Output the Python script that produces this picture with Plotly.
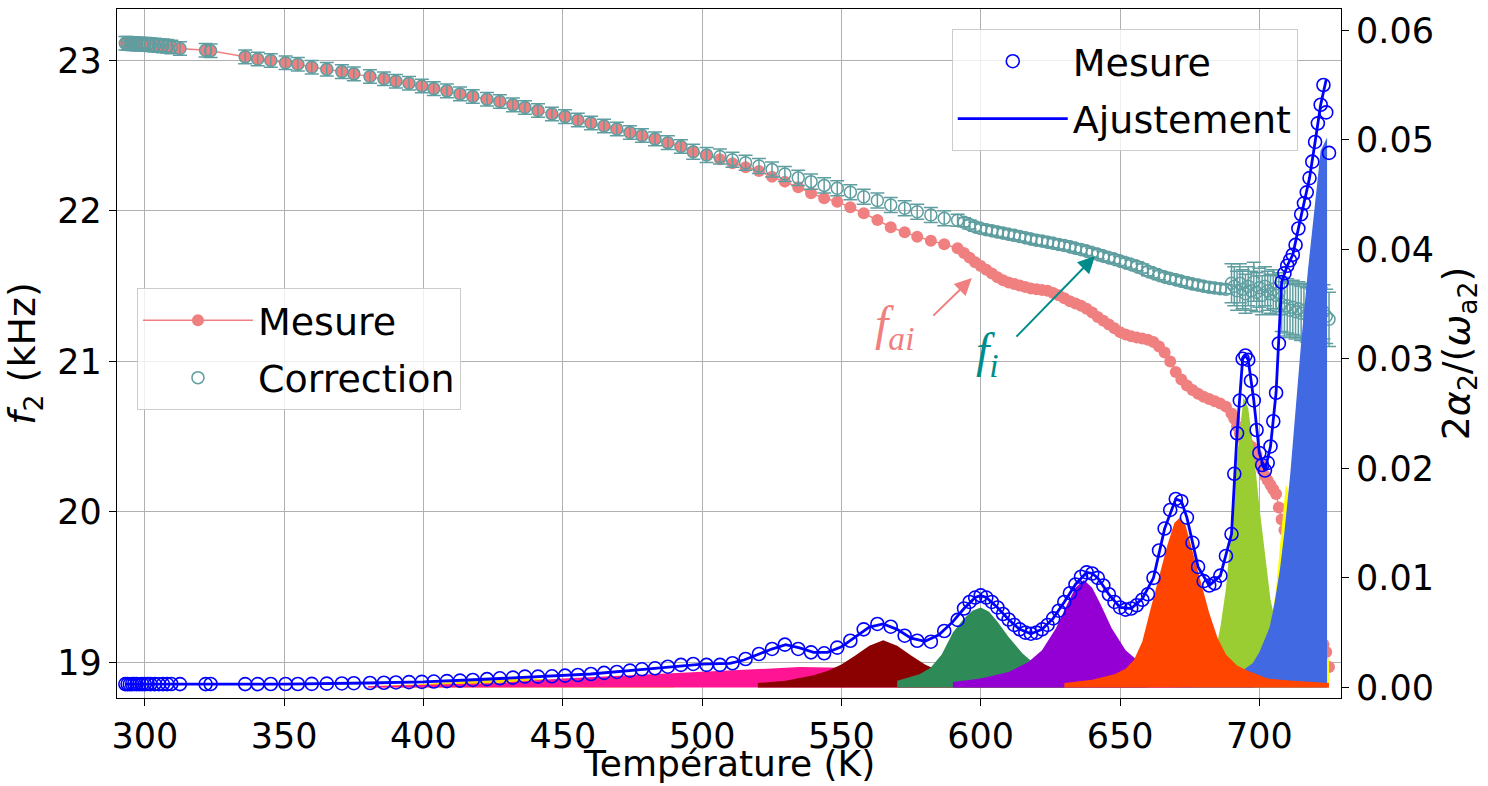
import plotly.graph_objects as go

# ---------------- data ----------------
# temperatures of the measurement points (K)
T_meas = [
    293.0, 293.8, 294.6, 295.4, 296.2, 297.0, 298.0, 299.0, 300.0, 301.0,
    302.0, 303.5, 305.0, 306.5, 308.0, 309.5, 312.6, 321.8, 323.6,
    336.0, 340.5, 345.2, 350.5,
    354.9, 359.9, 365.3, 370.7, 375.0, 380.8, 385.8, 390.1, 394.8, 399.4,
    403.7, 408.4, 413.1, 417.7, 422.8, 427.4, 432.1, 436.4, 441.1, 446.1,
    450.8, 455.4, 460.1, 464.8, 469.4, 474.1, 478.4, 483.1, 487.7, 492.4,
    496.8, 501.6, 506.4, 510.9, 515.6, 520.4, 525.1, 529.7, 534.5, 539.1,
    543.8, 548.5, 553.2, 558.0, 562.9, 567.7, 572.7, 577.2, 582.1, 586.9,
    591.7,
    594, 596, 598, 600, 602, 604, 606, 608, 610, 612,
    614, 616, 618, 620, 622, 624, 626, 628, 630, 632,
    634, 636, 638, 640, 642, 644, 646, 648, 650, 652,
    654, 656, 658, 660, 662, 664, 666, 668, 670, 672,
    674, 676, 678, 680, 682, 684, 686, 688, 690,
    691, 692, 693, 694, 695, 696, 697, 698, 699, 700,
    701, 702, 703, 704, 705, 706, 707, 708, 709, 710,
    711, 712, 713, 714, 715, 716, 717, 718, 719, 720,
    721, 722, 723, 724, 725,
]

# f_ai : measured frequency (kHz)
f_mesure = [
    23.115, 23.114, 23.113, 23.112, 23.111, 23.110, 23.109, 23.108, 23.107, 23.106,
    23.104, 23.102, 23.100, 23.097, 23.094, 23.090, 23.080, 23.068, 23.064,
    23.024, 23.010, 23.000, 22.985,
    22.975, 22.955, 22.942, 22.926, 22.911, 22.893, 22.878, 22.862, 22.849, 22.831,
    22.813, 22.798, 22.778, 22.760, 22.743, 22.727, 22.705, 22.687, 22.667, 22.645,
    22.627, 22.605, 22.585, 22.565, 22.545, 22.521, 22.501, 22.479, 22.454, 22.428,
    22.394, 22.372, 22.344, 22.317, 22.291, 22.266, 22.228, 22.195, 22.158, 22.118,
    22.084, 22.062, 22.025, 21.985, 21.940, 21.892, 21.858, 21.829, 21.802, 21.779,
    21.752,
    21.720, 21.690, 21.660, 21.635, 21.610, 21.585, 21.560, 21.540, 21.525, 21.515,
    21.505, 21.495, 21.485, 21.480, 21.475, 21.470, 21.455, 21.440, 21.420, 21.400,
    21.385, 21.370, 21.350, 21.325, 21.295, 21.270, 21.245, 21.220, 21.195, 21.180,
    21.168, 21.160, 21.152, 21.145, 21.130, 21.100, 21.060, 21.000, 20.930, 20.880,
    20.840, 20.810, 20.785, 20.765, 20.750, 20.735, 20.720, 20.700, 20.655,
    20.620, 20.570, 20.520, 20.490, 20.465, 20.450, 20.435, 20.420, 20.380, 20.330,
    20.280, 20.240, 20.210, 20.180, 20.150, 20.120, 20.030, 19.950, 19.880, 19.800,
    19.740, 19.680, 19.620, 19.570, 19.520, 19.470, 19.420, 19.370, 19.320, 19.270,
    19.220, 19.170, 19.120, 19.070, 18.970,
]

# f_i : corrected frequency (kHz) and its error bars
f_correction = [
    23.115, 23.114, 23.113, 23.112, 23.111, 23.110, 23.109, 23.108, 23.107, 23.106,
    23.104, 23.102, 23.100, 23.097, 23.094, 23.090, 23.080, 23.068, 23.064,
    23.024, 23.010, 23.000, 22.985,
    22.975, 22.955, 22.942, 22.926, 22.911, 22.893, 22.878, 22.862, 22.849, 22.831,
    22.813, 22.798, 22.778, 22.760, 22.743, 22.727, 22.705, 22.687, 22.667, 22.645,
    22.627, 22.605, 22.585, 22.565, 22.545, 22.521, 22.501, 22.479, 22.454, 22.428,
    22.394, 22.372, 22.362, 22.340, 22.320, 22.299, 22.275, 22.246, 22.220, 22.195,
    22.170, 22.151, 22.125, 22.095, 22.070, 22.040, 22.018, 21.995, 21.973, 21.951,
    21.938,
    21.925, 21.910, 21.895, 21.883, 21.875, 21.868, 21.860, 21.853, 21.846, 21.838,
    21.830, 21.822, 21.814, 21.806, 21.800, 21.793, 21.786, 21.778, 21.770, 21.762,
    21.753, 21.744, 21.734, 21.723, 21.712, 21.700, 21.690, 21.679, 21.668, 21.656,
    21.644, 21.632, 21.618, 21.600, 21.586, 21.573, 21.562, 21.552, 21.543, 21.533,
    21.524, 21.515, 21.508, 21.500, 21.494, 21.488, 21.484, 21.480, 21.520,
    21.500, 21.470, 21.520, 21.480, 21.450, 21.500, 21.470, 21.530, 21.460, 21.490,
    21.440, 21.500, 21.470, 21.450, 21.480, 21.440, 21.460, 21.380, 21.350, 21.370,
    21.340, 21.360, 21.330, 21.350, 21.320, 21.340, 21.310, 21.330, 21.300, 21.320,
    21.290, 21.310, 21.330, 21.300, 21.280,
]
f_correction_err = [
    0.045, 0.045, 0.045, 0.045, 0.045, 0.045, 0.045, 0.045, 0.045, 0.045,
    0.045, 0.045, 0.045, 0.045, 0.045, 0.045, 0.045, 0.045, 0.045,
    0.045, 0.045, 0.045, 0.045,
    0.045, 0.045, 0.045, 0.045, 0.045, 0.045, 0.045, 0.045, 0.045, 0.045,
    0.045, 0.045, 0.045, 0.045, 0.045, 0.045, 0.045, 0.045, 0.045, 0.045,
    0.045, 0.045, 0.045, 0.045, 0.045, 0.045, 0.045, 0.045, 0.045, 0.045,
    0.050, 0.050, 0.050, 0.050, 0.050, 0.050, 0.050, 0.050, 0.050, 0.050,
    0.050, 0.050, 0.050, 0.050, 0.050, 0.050, 0.050, 0.050, 0.050, 0.050,
    0.040,
    0.030, 0.030, 0.030, 0.030, 0.030, 0.030, 0.030, 0.030, 0.030, 0.030,
    0.030, 0.030, 0.030, 0.030, 0.030, 0.030, 0.030, 0.030, 0.030, 0.030,
    0.030, 0.030, 0.030, 0.030, 0.030, 0.030, 0.030, 0.030, 0.030, 0.030,
    0.030, 0.030, 0.030, 0.030, 0.030, 0.030, 0.030, 0.030, 0.030, 0.030,
    0.030, 0.030, 0.030, 0.030, 0.030, 0.030, 0.030, 0.030, 0.130,
    0.130, 0.130, 0.130, 0.130, 0.130, 0.130, 0.130, 0.130, 0.130, 0.130,
    0.130, 0.130, 0.130, 0.130, 0.130, 0.130, 0.130, 0.180, 0.180, 0.180,
    0.180, 0.180, 0.180, 0.180, 0.180, 0.180, 0.180, 0.180, 0.180, 0.180,
    0.180, 0.180, 0.180, 0.180, 0.180,
]

# 2 alpha_2 / omega_a2 : measured points (right axis)
alpha_mesure = [
    0.00030, 0.00030, 0.00029, 0.00030, 0.00031, 0.00030, 0.00029, 0.00030, 0.00030, 0.00031,
    0.00030, 0.00030, 0.00029, 0.00030, 0.00030, 0.00031, 0.00030, 0.00030, 0.00031,
    0.00030, 0.00030, 0.00031, 0.00031,
    0.00031, 0.00032, 0.00034, 0.00036, 0.00038, 0.00040, 0.00042, 0.00045, 0.00048, 0.00050,
    0.00053, 0.00057, 0.00062, 0.00068, 0.00075, 0.00083, 0.00089, 0.00098, 0.00098, 0.00101,
    0.00107, 0.00113, 0.00122, 0.00132, 0.00141, 0.00153, 0.00165, 0.00174, 0.00189, 0.00205,
    0.00214, 0.00205, 0.00205, 0.00220, 0.00259, 0.00305, 0.00351, 0.00390, 0.00351, 0.00320,
    0.00311, 0.00363, 0.00426, 0.00530, 0.00579, 0.00554, 0.00472, 0.00426, 0.00417, 0.00515,
    0.00616,
    0.0072, 0.0078, 0.0082, 0.0084, 0.0082, 0.0078, 0.0073, 0.0067, 0.0062, 0.0057,
    0.0053, 0.0050, 0.0049, 0.0050, 0.0053, 0.0057, 0.0063, 0.0070, 0.0078, 0.0086,
    0.0094, 0.0101, 0.0105, 0.0104, 0.0100, 0.0093, 0.0085, 0.0078, 0.0073, 0.0071,
    0.0072, 0.0075, 0.0080, 0.0085, 0.0100, 0.0125, 0.0145, 0.0162, 0.0172, 0.0170,
    0.0155, 0.0132, 0.0110, 0.0097, 0.0093, 0.0095, 0.0102, 0.0120, 0.0140,
    0.0195, 0.0232, 0.0262, 0.0300, 0.0303, 0.0299, 0.0280, 0.0262, 0.0235, 0.0214,
    0.0203, 0.0198, 0.0205, 0.0220, 0.0243, 0.0269, 0.0314, 0.0370, 0.0378, 0.0385,
    0.0390, 0.0395, 0.0404, 0.0419, 0.0432, 0.0442, 0.0452, 0.0465, 0.0480, 0.0498,
    0.0515, 0.0532, 0.0550, 0.0525, 0.0488,
]

# fitted curve (right axis)
T_fit = [293, 320, 350, 380, 400, 420, 440, 460, 480, 500, 510, 515, 520, 525, 530,
         535, 540, 545, 550, 555, 560, 565, 570, 575, 580, 585, 590, 594, 598, 600,
         602, 606, 610, 614, 618, 622, 626, 630, 634, 638, 640, 642, 646, 650, 654,
         658, 662, 666, 670, 672, 674, 678, 682, 686, 688, 690, 692, 694, 695, 696,
         698, 700, 702, 704, 706, 708, 710, 712, 714, 716, 718, 720, 722, 724]
alpha_fit = [0.0003, 0.0003, 0.0003, 0.0004, 0.0005, 0.00072, 0.00098, 0.00122, 0.00167, 0.00212,
             0.0022, 0.0025, 0.0030, 0.0035, 0.0039, 0.0036, 0.0032, 0.0032, 0.0037, 0.0046,
             0.0055, 0.0058, 0.0053, 0.0045, 0.0042, 0.0048, 0.0060, 0.0072, 0.0082, 0.0084,
             0.0082, 0.0073, 0.0062, 0.0053, 0.0049, 0.0053, 0.0063, 0.0078, 0.0094, 0.0105,
             0.0104, 0.0100, 0.0085, 0.0073, 0.0072, 0.0081, 0.0100, 0.0145, 0.0172, 0.0170,
             0.0155, 0.0110, 0.0093, 0.0102, 0.0120, 0.0140, 0.0232, 0.0300, 0.0303, 0.0299,
             0.0262, 0.0214, 0.0198, 0.0220, 0.0269, 0.0370, 0.0385, 0.0395, 0.0419, 0.0442,
             0.0465, 0.0498, 0.0532, 0.0555]

# fitted peak components (right axis), drawn as filled areas
gold_T = [380, 400, 410, 420, 430, 440, 450, 460, 475, 490]
gold_v = [0.0001, 0.0003, 0.0005, 0.0007, 0.0008, 0.0008, 0.0006, 0.0004, 0.0002, 0.0001]

pink_T = [380, 400, 427, 450, 475, 500, 520, 535, 550, 570, 590, 610, 640, 680, 725]
pink_v = [0.0001, 0.0002, 0.0004, 0.0008, 0.0011, 0.0014, 0.0017, 0.00185, 0.0018,
          0.0015, 0.0011, 0.0008, 0.0005, 0.0003, 0.0002]

darkred_T = [520, 530, 540, 545, 550, 555, 560, 565, 570, 575, 580, 585, 590, 600, 615, 630]
darkred_v = [0.0004, 0.0006, 0.0011, 0.0015, 0.0021, 0.0029, 0.0038, 0.0043, 0.0038,
             0.0029, 0.0021, 0.0015, 0.0011, 0.0006, 0.0003, 0.0002]

green_T = [570, 578, 582, 586, 590, 594, 597, 600, 603, 606, 610, 615, 620, 628, 640, 660]
green_v = [0.0006, 0.0012, 0.0018, 0.0030, 0.0050, 0.0063, 0.0070, 0.0073, 0.0069,
           0.0060, 0.0046, 0.0031, 0.0020, 0.0011, 0.0006, 0.0003]

violet_T = [590, 600, 610, 617, 622, 627, 631, 634, 637, 640, 643, 647, 652, 657, 665, 680, 700]
violet_v = [0.0005, 0.0008, 0.0014, 0.0023, 0.0034, 0.0054, 0.0076, 0.0091, 0.0098,
            0.0091, 0.0076, 0.0054, 0.0034, 0.0023, 0.0013, 0.0006, 0.0003]

yellowgreen_T = [676, 681, 684, 686, 688, 690, 692, 694.3, 696, 698, 700, 702, 704, 707, 712, 720]
yellowgreen_v = [0.0006, 0.0015, 0.0030, 0.0055, 0.0090, 0.0145, 0.0210, 0.0265, 0.0255,
                 0.0215, 0.0165, 0.0120, 0.0080, 0.0045, 0.0020, 0.0008]

yellow_T = [698, 702, 704, 706, 708, 709.5, 711, 713, 716, 720, 725]
yellow_v = [0.0010, 0.0030, 0.0055, 0.0090, 0.0145, 0.0185, 0.0175, 0.0130, 0.0080, 0.0045, 0.0025]

blue_T = [670, 680, 688, 694.3, 697.6, 700, 703.7, 705.5, 707.4, 709, 711.1, 713.5, 715,
          717.4, 720, 722, 724.3]
blue_v = [0.0003, 0.0006, 0.0010, 0.0016, 0.0022, 0.0032, 0.0055, 0.0078, 0.0108, 0.0142,
          0.0195, 0.0270, 0.0315, 0.0380, 0.0445, 0.0490, 0.0502]

orange_T = [630, 640, 648, 652, 655, 658, 661, 664, 667, 669.5, 671.5, 673.5, 676, 679,
            682, 685, 688, 692, 696, 703, 712, 725]
orange_v = [0.0004, 0.0007, 0.0012, 0.0017, 0.0025, 0.0042, 0.0072, 0.0102, 0.0130, 0.0150,
            0.0155, 0.0148, 0.0125, 0.0098, 0.0068, 0.0045, 0.0030, 0.0020, 0.0015, 0.0008,
            0.0006, 0.0004]

components = [
    (gold_T, gold_v, "#FFD700"),
    (pink_T, pink_v, "#FF1493"),
    (darkred_T, darkred_v, "#8B0000"),
    (green_T, green_v, "#2E8B57"),
    (violet_T, violet_v, "#9400D3"),
    (yellowgreen_T, yellowgreen_v, "#9ACD32"),
    (yellow_T, yellow_v, "#FFFF00"),
    (blue_T, blue_v, "#4169E1"),
    (orange_T, orange_v, "#FF4500"),
]

x_ticks = [300, 350, 400, 450, 500, 550, 600, 650, 700]
y_ticks = [19, 20, 21, 22, 23]
y2_ticks = [0.00, 0.01, 0.02, 0.03, 0.04, 0.05, 0.06]

SALMON = "#F08080"
CADET = "#5F9EA0"
DARKCYAN = "#008B8B"
FONT = "DejaVu Sans"

fig = go.Figure()

fig.add_trace(go.Scatter(
    x=T_meas, y=f_mesure, mode="lines+markers", name="Mesure",
    line=dict(color=SALMON, width=1.5),
    marker=dict(color=SALMON, size=12),
    legend="legend", legendgroup="a", legendrank=1, hoverinfo="skip"))

fig.add_trace(go.Scatter(
    x=T_meas, y=f_correction, mode="markers", name="Correction",
    marker=dict(symbol="circle-open", color=CADET, size=12, line=dict(width=1.5, color=CADET)),
    error_y=dict(type="data", array=f_correction_err, color=CADET, thickness=1.5, width=7),
    legend="legend", legendgroup="b", legendrank=2, hoverinfo="skip"))

for cx, cy, col in components:
    fig.add_trace(go.Scatter(
        x=cx, y=cy, mode="lines", line=dict(width=0, color=col),
        fill="tozeroy", fillcolor=col, yaxis="y2", showlegend=False, hoverinfo="skip"))

fig.add_trace(go.Scatter(
    x=T_fit, y=alpha_fit, mode="lines", name="Ajustement",
    line=dict(color="#0000FF", width=2.8), yaxis="y2",
    legend="legend2", legendgroup="d", legendrank=2, hoverinfo="skip"))

fig.add_trace(go.Scatter(
    x=T_meas, y=alpha_mesure, mode="markers", name="Mesure",
    marker=dict(symbol="circle-open", color="#0000FF", size=13, line=dict(width=1.6, color="#0000FF")),
    yaxis="y2", legend="legend2", legendgroup="c", legendrank=1, hoverinfo="skip"))

axis_common = dict(
    showline=True, linecolor="black", linewidth=1.2,
    ticks="outside", ticklen=7, tickwidth=1.2, tickcolor="black",
    tickfont=dict(family=FONT, size=35, color="black"),
    zeroline=False,
)

legend_common = dict(
    xanchor="left", yanchor="top",
    bgcolor="rgba(255,255,255,0.8)", bordercolor="#cccccc", borderwidth=1,
    font=dict(family=FONT, size=38, color="black"),
    itemwidth=110, tracegroupgap=5,
)

fig.update_layout(
    width=1488, height=786,
    margin=dict(l=117, r=147, t=9, b=88, autoexpand=False),
    plot_bgcolor="white", paper_bgcolor="white",
    font=dict(family=FONT, size=35, color="black"),
    showlegend=True,
    xaxis=dict(
        range=[290, 729.3], tickvals=x_ticks, mirror=True,
        showgrid=True, gridcolor="#b0b0b0", gridwidth=1,
        **axis_common),
    yaxis=dict(
        range=[18.764, 23.342], tickvals=y_ticks, mirror=True,
        showgrid=True, gridcolor="#b0b0b0", gridwidth=1,
        title=dict(text="<i>f</i><sub>2</sub> (kHz)", font=dict(family=FONT, size=38), standoff=10),
        **axis_common),
    yaxis2=dict(
        overlaying="y", side="right", range=[-0.00097, 0.06194],
        tickvals=y2_ticks, tickformat=".2f", showgrid=False,
        title=dict(text="2<i>α</i><sub>2</sub>/(<i>ω</i><sub>a2</sub>)",
                   font=dict(family=FONT, size=38), standoff=4),
        **axis_common),
    legend=dict(x=0.0163, y=0.595, **legend_common),
    legend2=dict(x=0.682, y=0.971, **legend_common),
    annotations=[
        dict(x=0.5, y=-0.0955, xref="paper", yref="paper", xanchor="center", yanchor="middle",
             showarrow=False, text="Température (K)",
             font=dict(family=FONT, size=36, color="black")),
        dict(x=596.8, y=21.554, xref="x", yref="y", ax=-40, ay=39,
             showarrow=True, arrowhead=2, arrowsize=1.7, arrowwidth=2, arrowcolor=SALMON,
             text="", standoff=0),
        dict(x=641.0, y=21.700, xref="x", yref="y", ax=-80, ay=82,
             showarrow=True, arrowhead=2, arrowsize=1.7, arrowwidth=2, arrowcolor=DARKCYAN,
             text="", standoff=0),
        dict(x=569.2, y=21.229, xref="x", yref="y", showarrow=False,
             text="<i>f<sub>ai</sub></i>",
             font=dict(family="Liberation Serif", size=48, color=SALMON)),
        dict(x=602.6, y=21.05, xref="x", yref="y", showarrow=False,
             text="<i>f<sub>i</sub></i>",
             font=dict(family="Liberation Serif", size=48, color=DARKCYAN)),
    ],
)

fig.write_html("out.html")
